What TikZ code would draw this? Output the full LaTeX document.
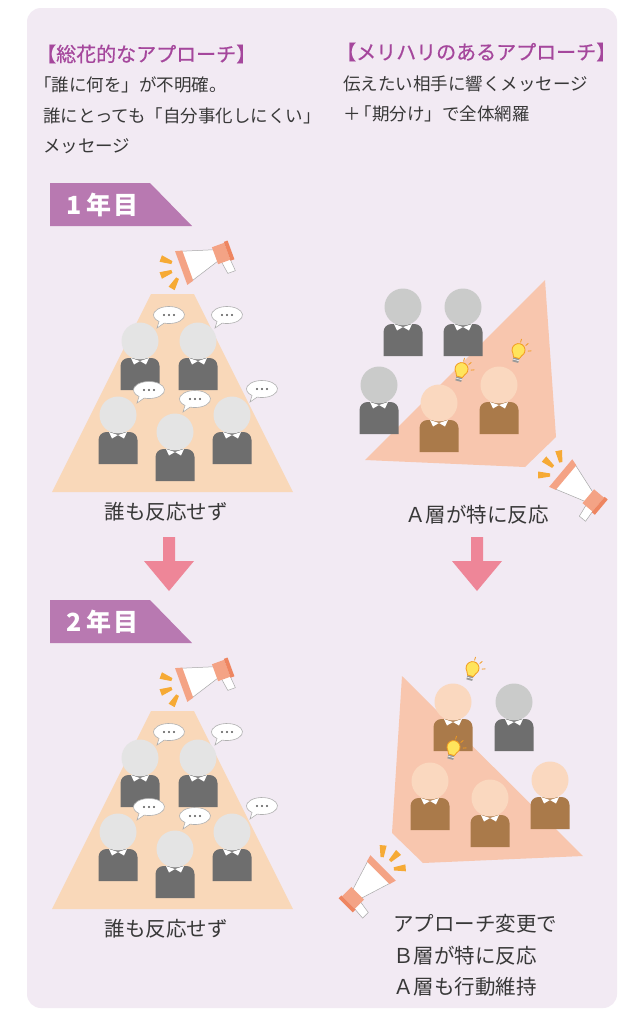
\documentclass[tikz,border=0pt]{standalone}
\usepackage{fontspec}
\setmainfont{Noto Sans CJK JP}
\newfontfamily\headfont[FakeBold=0.6]{Noto Sans CJK JP}
\usetikzlibrary{calc}

\definecolor{panelbg}{HTML}{F2EAF3}
\definecolor{ink}{HTML}{383838}
\definecolor{headpurple}{HTML}{A5479C}
\definecolor{tagpurple}{HTML}{B879B1}
\definecolor{arrowpink}{HTML}{EE8698}
\definecolor{crowdpeach}{HTML}{F9D8B9}
\definecolor{beamsalmon}{HTML}{F8C6AE}
\definecolor{headlight}{HTML}{E4E4E4}
\definecolor{headgray}{HTML}{CACBCA}
\definecolor{suitgray}{HTML}{6E6E6E}
\definecolor{facetan}{HTML}{FAD8BF}
\definecolor{suitbrown}{HTML}{AA7A4A}
\definecolor{megpeach}{HTML}{F4A385}
\definecolor{megdark}{HTML}{EE8560}
\definecolor{megline}{HTML}{A8A8A8}
\definecolor{soundorange}{HTML}{F6AA35}
\definecolor{bulbyellow}{HTML}{FFE45C}
\definecolor{bulbedge}{HTML}{F29B1F}
\definecolor{bulbbase}{HTML}{9A9A9A}
\definecolor{bubbleedge}{HTML}{B0B0B0}
\definecolor{dotgray}{HTML}{555555}

\tikzset{
  heading/.style={inner sep=0, anchor=base west, text=headpurple, font=\headfont\fontsize{20}{24}\selectfont},
  bodytext/.style={inner sep=0, anchor=base west, text=ink, font=\fontsize{17.5}{21}\selectfont},
  caption/.style={inner sep=0, anchor=base, text=ink, font=\fontsize{20.5}{24}\selectfont},
  captionleft/.style={caption, anchor=base west},
  tagtext/.style={inner sep=0, anchor=base west, text=white, font=\fontsize{25}{30}\selectfont\bfseries},
  tagshape/.style={fill=tagpurple},
  blockarrow/.style={fill=arrowpink},
  % a person: head colour, suit colour
  pics/person/.style 2 args={code={
    \fill[#2] (-19.5,49) -- (-19.5,25) arc[start angle=180,end angle=270,radius=8]
      -- (11.5,17) arc[start angle=270,end angle=360,radius=8] -- (19.5,49) -- cycle;
    \fill[#1] (0,0) circle[radius=18.5];
    \fill[white] (-9,17) -- (0,20) -- (9,17) -- (6,23.5) -- (0,20) -- (-6,23.5) -- cycle;
  }},
  % speech bubble with three dots
  pics/bubble/.style={code={
    \draw[fill=white, draw=bubbleedge, line width=0.6]
      (130:15.5 and 8.5) -- (-12,13) -- (108:15.5 and 8.5)
      arc[start angle=108, end angle=-230, x radius=15.5, y radius=8.5] -- cycle;
    \foreach \dx in {-5,0,5} \fill[dotgray] (\dx,0) circle[radius=1.1];
  }},
  % megaphone, bell opening at the origin, facing -x
  pics/megaphone/.style={code={
    \foreach \a in {140,180,220}
      \fill[soundorange] (\a-7:13) -- (\a+7:13) -- (\a+8:25) -- (\a-8:25) -- cycle;
    \draw[fill=white, draw=megline, line width=0.5] (37,8) -- (46,8) -- (47,21) -- (39,21) -- cycle;
    \draw[fill=white, draw=megline, line width=0.5] (2,-16) -- (34,-6) -- (34,6) -- (2,16) -- cycle;
    \fill[megpeach] (33,-9) rectangle (46,9);
    \fill[megdark] (46,-10) rectangle (50,10);
    \fill[megpeach] (-3,-18) -- (4,-16) -- (4,16) -- (-3,18) -- cycle;
  }},
  % light bulb
  pics/bulb/.style={code={
    \foreach \a in {-90,-55,-20} \draw[bulbedge, line width=0.8] (\a:10) -- (\a:13.5);
    \fill[bulbbase] (-3,6) rectangle (3,10.5);
    \draw[white, line width=0.5] (-3,8.2) -- (3,8.2);
    \draw[fill=bulbyellow, draw=bulbedge, line width=0.8] (-3,6) -- (-4.6,2.6)
      arc[start angle=135, end angle=405, radius=6.5] -- (3,6) -- cycle;
  }},
  % the five silent listeners of the broad approach
  pics/crowd/.style={code={
    \fill[crowdpeach] (151,294) -- (194,294) -- (293,492) -- (52,492) -- cycle;
    \pic at (140,341) {person={headlight}{suitgray}};
    \pic at (198,341) {person={headlight}{suitgray}};
    \pic at (118,415) {person={headlight}{suitgray}};
    \pic at (232,415) {person={headlight}{suitgray}};
    \pic at (175,432) {person={headlight}{suitgray}};
    \pic at (169,315) {bubble};
    \pic at (227,315) {bubble};
    \pic at (149,390) {bubble};
    \pic at (195,399) {bubble};
    \pic at (262,389) {bubble};
    \pic[rotate=20] at (184,267) {megaphone};
  }},
}

\begin{document}
\begin{tikzpicture}[x=1pt,y=-1pt]
\useasboundingbox (0,0) rectangle (631,1010);
\fill[white] (0,0) rectangle (631,1010);
\fill[panelbg, rounded corners=14] (27,8) rectangle (617,1008);

% headings and explanations
\node[heading] (hl) at (36,61.6) {【総花的なアプローチ】};
\node[bodytext] (l1) at (43,91.7) {\hspace{-0.5em}「誰に何を」が不明確。};
\node[bodytext] (l2) at (43,122.2) {誰にとっても「自分事化しにくい」};
\node[bodytext] (l3) at (43,152.7) {メッセージ};
\node[heading] (hr) at (336,59.6) {【メリハリのあるアプローチ】};
\node[bodytext] (r1) at (343,90.7) {伝えたい相手に響くメッセージ};
\node[bodytext] (r2) at (343,120.7) {＋\hspace{-0.35em}「期分け」で全体網羅};

% year tags
\fill[tagshape] (50,183) -- (150,183) -- (192,226) -- (50,226) -- cycle;
\node[tagtext] (t1) at (66,214.5) {1\hspace{5pt}年\hspace{2pt}目};
\fill[tagshape] (50,600) -- (150,600) -- (192,643) -- (50,643) -- cycle;
\node[tagtext] (t2) at (66,631.5) {2\hspace{5pt}年\hspace{2pt}目};

% broad approach, year 1 and year 2
\pic (c1) at (0,0) {crowd};
\pic (c2) at (0,417) {crowd};
\node[caption] (n1) at (166,519.8) {誰も反応せず};
\node[caption] (n2) at (166,936.8) {誰も反応せず};

% focused approach, year 1
\fill[beamsalmon] (545,280) -- (556,437) -- (525,467) -- (365,460) -- cycle;
\pic at (403,307) {person={headgray}{suitgray}};
\pic at (463,307) {person={headgray}{suitgray}};
\pic at (379,385) {person={headgray}{suitgray}};
\pic at (499,385) {person={facetan}{suitbrown}};
\pic at (439,403) {person={facetan}{suitbrown}};
\pic[rotate=-15] at (461,371) {bulb};
\pic[rotate=-15] at (518,352) {bulb};
\pic[rotate=-40] at (563,475) {megaphone};
\node[caption] (a1) at (477,522.8) {Ａ層が特に反応};

% focused approach, year 2
\fill[beamsalmon] (402,676) -- (392,833) -- (423,863) -- (583,856) -- cycle;
\pic at (453,702) {person={facetan}{suitbrown}};
\pic at (514,702) {person={headgray}{suitgray}};
\pic at (430,781) {person={facetan}{suitbrown}};
\pic at (550,780) {person={facetan}{suitbrown}};
\pic at (490,798) {person={facetan}{suitbrown}};
\pic[rotate=-15] at (472,670) {bulb};
\pic[rotate=-15] at (453,749) {bulb};
\pic[rotate=45, xscale=-1] at (381,870) {megaphone};
\node[captionleft] (b1) at (393,931.8) {アプローチ変更で};
\node[captionleft] (b2) at (393,963.8) {Ｂ層が特に反応};
\node[captionleft] (b3) at (393,994.8) {Ａ層も行動維持};

% progression arrows
\fill[blockarrow] (163,537) -- (175,537) -- (175,561) -- (194,561) -- (169,591) -- (144,561) -- (163,561) -- cycle;
\fill[blockarrow] (471,537) -- (483,537) -- (483,561) -- (502,561) -- (477,591) -- (452,561) -- (471,561) -- cycle;
\end{tikzpicture}
\end{document}
